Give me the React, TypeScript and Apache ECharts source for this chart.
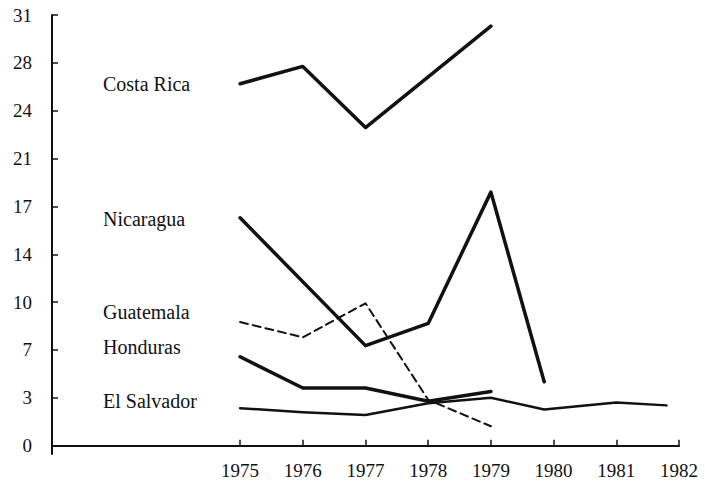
import React, { useEffect, useRef } from "react";
import * as echarts from "echarts";

const years = [1975, 1976, 1977, 1978, 1979, 1980, 1981, 1982];
const yTickLabels = [0, 3, 7, 10, 14, 17, 21, 24, 28, 31];
const yMax = 31;

const costaRica: [number, number][] = [[1975, 26.05], [1976, 27.3], [1977, 22.9], [1979, 30.2]];
const nicaragua: [number, number][] = [[1975, 16.4], [1977, 7.2], [1978, 8.8], [1979, 18.25], [1979.85, 4.6]];
const guatemala: [number, number][] = [[1975, 8.9], [1976, 7.8], [1977, 10.25], [1978, 3.3], [1979, 1.4]];
const honduras: [number, number][] = [[1975, 6.4], [1976, 4.15], [1977, 4.15], [1978, 3.2], [1979, 3.9]];
const elSalvador: [number, number][] = [[1975, 2.7], [1976, 2.4], [1977, 2.2], [1978, 3.05], [1979, 3.45], [1979.85, 2.6], [1981, 3.1], [1981.8, 2.9]];

const seriesNames = ["Costa Rica", "Nicaragua", "Guatemala", "Honduras", "El Salvador"];
const labelY = [85, 220, 313, 348, 402];

const FONT = "'Liberation Serif', 'DejaVu Serif', serif";
const INK = "#111";

export default function App() {
  const ref = useRef<HTMLDivElement>(null);
  useEffect(() => {
    if (!ref.current) return;
    const chart = echarts.init(ref.current, null, { renderer: "svg" });
    const step = yMax / (yTickLabels.length - 1);
    const yTicks = yTickLabels.map((_, i) => i * step);
    const lineSeries = (name: string, data: [number, number][], width: number, type: any = "solid") => ({
      name,
      type: "line",
      data,
      symbol: "none",
      lineStyle: { color: INK, width, type, cap: "round", join: "round" },
      z: 3,
    });
    chart.setOption({
      animation: false,
      backgroundColor: "#fff",
      grid: { left: 52, right: 26, top: 15, bottom: 31 },
      xAxis: {
        type: "value",
        min: 1972,
        max: 1982,
        splitLine: { show: false },
        axisLine: { lineStyle: { color: INK, width: 2 } },
        axisTick: { inside: true, length: 6, lineStyle: { color: INK, width: 1.5 }, customValues: years },
        axisLabel: {
          customValues: years,
          formatter: (v: number) => String(Math.round(v)),
          color: INK,
          fontFamily: FONT,
          fontSize: 19,
          margin: 7,
        },
      },
      yAxis: {
        type: "value",
        min: -0.6,
        max: yMax,
        splitLine: { show: false },
        axisLine: { show: true, lineStyle: { color: INK, width: 2 } },
        axisTick: { show: true, inside: true, length: 6, lineStyle: { color: INK, width: 1.5 }, customValues: yTicks.slice(1) },
        axisLabel: {
          customValues: yTicks,
          formatter: (v: number) => String(yTickLabels[Math.round(v / step)]),
          color: INK,
          fontFamily: FONT,
          fontSize: 19,
          margin: 20,
        },
      },
      series: [
        lineSeries(seriesNames[0], costaRica, 3.5),
        lineSeries(seriesNames[1], nicaragua, 3.5),
        lineSeries(seriesNames[2], guatemala, 2, [8, 5]),
        lineSeries(seriesNames[3], honduras, 3.5),
        lineSeries(seriesNames[4], elSalvador, 2.5),
      ],
      graphic: seriesNames.map((n, i) => ({
        type: "text",
        left: 103,
        top: labelY[i] - 11,
        style: { text: n, fill: INK, font: `20px ${FONT}` },
      })),
    });
    return () => chart.dispose();
  }, []);
  return <div ref={ref} style={{ width: 705, height: 485, position: "absolute", left: 0, top: 0 }} />;
}
